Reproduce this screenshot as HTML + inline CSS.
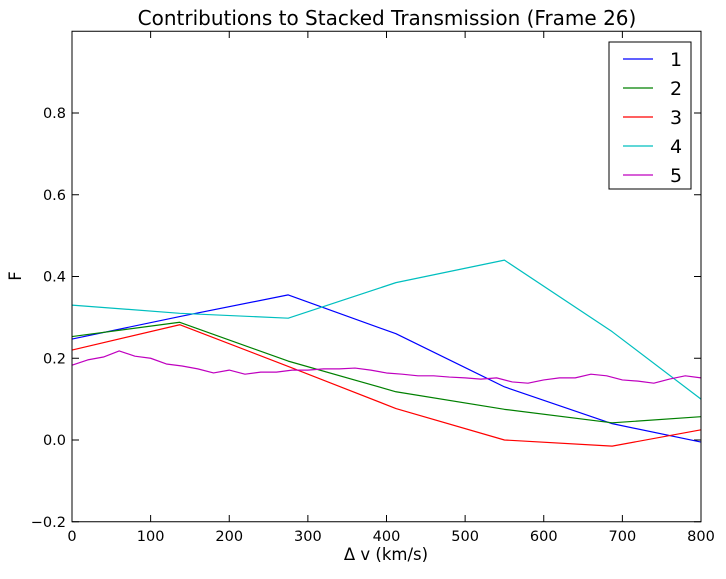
<!DOCTYPE html>
<html><head><meta charset="utf-8"><style>
html,body{margin:0;padding:0;background:#fff;}
svg text{font-family:"DejaVu Sans","Liberation Sans",sans-serif;}
</style></head><body>
<svg id="chart" width="726" height="574" xmlns="http://www.w3.org/2000/svg">
<rect width="726" height="574" fill="#fff"/>
<text x="387" y="25" font-size="20" text-anchor="middle">Contributions to Stacked Transmission (Frame 26)</text>
<g id="plot"></g>
<rect x="72" y="31.25" width="629" height="490.5" fill="none" stroke="#000" stroke-width="1"/>
<text x="386" y="560" font-size="16.5" text-anchor="middle">Δ v (km/s)</text>
<text x="21" y="276" font-size="16.5" text-anchor="middle" transform="rotate(-90 21 276)">F</text>
<g id="legend"></g>
</svg>
<script>
const xTicks=[0,100,200,300,400,500,600,700,800];
const yTicks=[-0.2,0.0,0.2,0.4,0.6,0.8];
const seriesNames=["1","2","3","4","5"];
const seriesColors=["#0000ff","#008000","#ff0000","#00bfbf","#bf00bf"];
const coarseX=[0,137,275,412,550,687,800];
const s1=[0.247,0.302,0.355,0.26,0.13,0.04,-0.005];
const s2=[0.253,0.288,0.193,0.118,0.075,0.042,0.057];
const s3=[0.22,0.282,0.18,0.077,0.0,-0.015,0.025];
const s4=[0.33,0.31,0.298,0.385,0.44,0.265,0.1];
const fineX=[0,20,40,60,80,100,120,140,160,180,200,220,240,260,280,300,320,340,360,380,400,420,440,460,480,500,520,540,560,580,600,620,640,660,680,700,720,740,760,780,800];
const s5=[0.183,0.196,0.203,0.218,0.205,0.2,0.186,0.181,0.174,0.164,0.171,0.161,0.166,0.166,0.171,0.171,0.174,0.174,0.176,0.171,0.164,0.161,0.157,0.157,0.154,0.152,0.149,0.152,0.142,0.139,0.147,0.152,0.152,0.161,0.157,0.147,0.144,0.139,0.149,0.157,0.152];
const NS="http://www.w3.org/2000/svg";
const X=v=>72+v/800*629;
const Y=v=>440-v/0.2*81.75;
const plot=document.getElementById('plot');
function mk(t,a,p){const e=document.createElementNS(NS,t);for(const k in a)e.setAttribute(k,a[k]);(p||plot).appendChild(e);return e;}
xTicks.forEach(t=>{
  const g=mk('g',{});
  
  
  mk('line',{x1:X(t),x2:X(t),y1:521.75,y2:515,stroke:'#000'},g);
  mk('line',{x1:X(t),x2:X(t),y1:31.25,y2:38,stroke:'#000'},g);
  const tx=mk('text',{x:X(t),y:541,'font-size':14.5,'text-anchor':'middle'},g);tx.textContent=t;
});
yTicks.forEach(t=>{
  const g=mk('g',{});
  
  
  mk('line',{x1:72,x2:79,y1:Y(t),y2:Y(t),stroke:'#000'},g);
  mk('line',{x1:701,x2:694,y1:Y(t),y2:Y(t),stroke:'#000'},g);
  const tx=mk('text',{x:66,y:Y(t)+5,'font-size':14.5,'text-anchor':'end'},g);tx.textContent=t.toFixed(1).replace('-','\u2212');
});
const all=[[coarseX,s1],[coarseX,s2],[coarseX,s3],[coarseX,s4],[fineX,s5]];
all.forEach((d,i)=>{
  const pts=d[0].map((x,j)=>X(x)+','+Y(d[1][j])).join(' ');
  const pl=mk('polyline',{points:pts,fill:'none',stroke:seriesColors[i],'stroke-width':1.2,'stroke-linejoin':'round'});
  
  
});
const lg=document.getElementById('legend');
mk('rect',{x:609,y:42,width:82,height:147,fill:'#fff',stroke:'#000'},lg);
seriesNames.forEach((n,i)=>{
  const y=59+i*29;
  const g=mk('g',{},lg);
  
  
  mk('line',{x1:623,x2:653,y1:y,y2:y,stroke:seriesColors[i],'stroke-width':1.2},g);
  const t=mk('text',{x:670,y:y+7,'font-size':19},g);t.textContent=n;
});
</script>
</body></html>
